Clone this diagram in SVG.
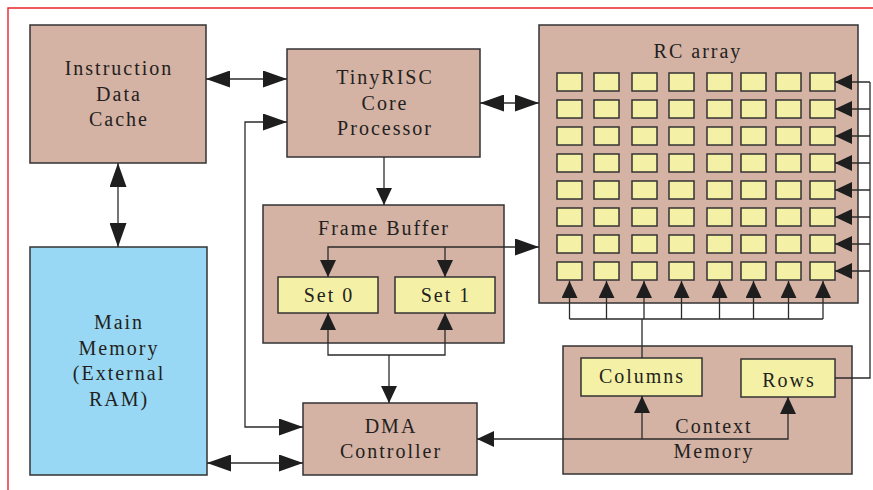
<svg xmlns="http://www.w3.org/2000/svg" width="873" height="490" viewBox="0 0 873 490">
<style>
.box{fill:#d4b2a4;stroke:#333;stroke-width:1.5}
.mem{fill:#98d8f4;stroke:#333;stroke-width:1.5}
.cell{fill:#f4f1a6;stroke:#333;stroke-width:1.5}
.ln{fill:none;stroke:#2b2b2b;stroke-width:1.3}
text{font-family:"Liberation Serif","DejaVu Serif",serif;font-size:20px;fill:#231f20;text-anchor:middle;letter-spacing:2px}
</style>
<defs>
<marker id="big" markerUnits="userSpaceOnUse" markerWidth="24" markerHeight="17" refX="24" refY="8.5" orient="auto-start-reverse"><path d="M0,0 L24,8.5 L0,17 z" fill="#1e1e1e"/></marker>
<marker id="sm" markerUnits="userSpaceOnUse" markerWidth="17" markerHeight="16" refX="17" refY="8" orient="auto-start-reverse"><path d="M0,0 L17,8 L0,16 z" fill="#1e1e1e"/></marker>
</defs>
<rect width="873" height="490" fill="#fff"/>
<path d="M8,490 V8 H873" fill="none" stroke="#e8262e" stroke-width="1.4"/>

<g id="idc">
<rect class="box" x="30" y="25" width="176" height="138"/>
<text x="119" y="75">Instruction</text>
<text x="119" y="101">Data</text>
<text x="119" y="126">Cache</text>
</g>

<g id="tinyrisc">
<rect class="box" x="287" y="49" width="193" height="108"/>
<text x="385" y="84">TinyRISC</text>
<text x="385" y="110">Core</text>
<text x="385" y="135">Processor</text>
</g>

<g id="mainmem">
<rect class="mem" x="30" y="247" width="177" height="228"/>
<text x="119" y="329">Main</text>
<text x="119" y="355">Memory</text>
<text x="119" y="380">(External</text>
<text x="119" y="406">RAM)</text>
</g>

<g id="framebuffer">
<rect class="box" x="263" y="205" width="241" height="138"/>
<text x="384" y="235">Frame Buffer</text>
<g id="set0"><rect class="cell" x="278" y="277" width="100" height="36"/><text x="329" y="302">Set 0</text></g>
<g id="set1"><rect class="cell" x="395" y="277" width="100" height="36"/><text x="446" y="302">Set 1</text></g>
</g>

<g id="dma">
<rect class="box" x="303" y="403" width="174" height="72"/>
<text x="391" y="433">DMA</text>
<text x="391" y="458">Controller</text>
</g>

<g id="rcarray">
<rect class="box" x="539" y="25" width="319" height="278"/>
<text x="698" y="58">RC array</text>
<g id="cells">
<rect class="cell" x="557" y="73" width="25" height="18"/><rect class="cell" x="594" y="73" width="25" height="18"/><rect class="cell" x="632" y="73" width="25" height="18"/><rect class="cell" x="669" y="73" width="25" height="18"/><rect class="cell" x="707" y="73" width="25" height="18"/><rect class="cell" x="741" y="73" width="25" height="18"/><rect class="cell" x="776" y="73" width="25" height="18"/><rect class="cell" x="810" y="73" width="25" height="18"/>
<rect class="cell" x="557" y="100" width="25" height="18"/><rect class="cell" x="594" y="100" width="25" height="18"/><rect class="cell" x="632" y="100" width="25" height="18"/><rect class="cell" x="669" y="100" width="25" height="18"/><rect class="cell" x="707" y="100" width="25" height="18"/><rect class="cell" x="741" y="100" width="25" height="18"/><rect class="cell" x="776" y="100" width="25" height="18"/><rect class="cell" x="810" y="100" width="25" height="18"/>
<rect class="cell" x="557" y="127" width="25" height="18"/><rect class="cell" x="594" y="127" width="25" height="18"/><rect class="cell" x="632" y="127" width="25" height="18"/><rect class="cell" x="669" y="127" width="25" height="18"/><rect class="cell" x="707" y="127" width="25" height="18"/><rect class="cell" x="741" y="127" width="25" height="18"/><rect class="cell" x="776" y="127" width="25" height="18"/><rect class="cell" x="810" y="127" width="25" height="18"/>
<rect class="cell" x="557" y="154" width="25" height="18"/><rect class="cell" x="594" y="154" width="25" height="18"/><rect class="cell" x="632" y="154" width="25" height="18"/><rect class="cell" x="669" y="154" width="25" height="18"/><rect class="cell" x="707" y="154" width="25" height="18"/><rect class="cell" x="741" y="154" width="25" height="18"/><rect class="cell" x="776" y="154" width="25" height="18"/><rect class="cell" x="810" y="154" width="25" height="18"/>
<rect class="cell" x="557" y="181" width="25" height="18"/><rect class="cell" x="594" y="181" width="25" height="18"/><rect class="cell" x="632" y="181" width="25" height="18"/><rect class="cell" x="669" y="181" width="25" height="18"/><rect class="cell" x="707" y="181" width="25" height="18"/><rect class="cell" x="741" y="181" width="25" height="18"/><rect class="cell" x="776" y="181" width="25" height="18"/><rect class="cell" x="810" y="181" width="25" height="18"/>
<rect class="cell" x="557" y="208" width="25" height="18"/><rect class="cell" x="594" y="208" width="25" height="18"/><rect class="cell" x="632" y="208" width="25" height="18"/><rect class="cell" x="669" y="208" width="25" height="18"/><rect class="cell" x="707" y="208" width="25" height="18"/><rect class="cell" x="741" y="208" width="25" height="18"/><rect class="cell" x="776" y="208" width="25" height="18"/><rect class="cell" x="810" y="208" width="25" height="18"/>
<rect class="cell" x="557" y="235" width="25" height="18"/><rect class="cell" x="594" y="235" width="25" height="18"/><rect class="cell" x="632" y="235" width="25" height="18"/><rect class="cell" x="669" y="235" width="25" height="18"/><rect class="cell" x="707" y="235" width="25" height="18"/><rect class="cell" x="741" y="235" width="25" height="18"/><rect class="cell" x="776" y="235" width="25" height="18"/><rect class="cell" x="810" y="235" width="25" height="18"/>
<rect class="cell" x="557" y="262" width="25" height="18"/><rect class="cell" x="594" y="262" width="25" height="18"/><rect class="cell" x="632" y="262" width="25" height="18"/><rect class="cell" x="669" y="262" width="25" height="18"/><rect class="cell" x="707" y="262" width="25" height="18"/><rect class="cell" x="741" y="262" width="25" height="18"/><rect class="cell" x="776" y="262" width="25" height="18"/><rect class="cell" x="810" y="262" width="25" height="18"/>
</g>
</g>

<g id="contextmem">
<rect class="box" x="563" y="346" width="289" height="128"/>
<text x="714" y="433">Context</text>
<text x="714" y="458">Memory</text>
<g id="columns"><rect class="cell" x="581" y="358" width="121" height="38"/><text x="642" y="383">Columns</text></g>
<g id="rows"><rect class="cell" x="741" y="359" width="94" height="38"/><text x="789" y="387">Rows</text></g>
</g>

<g id="connectors">
<path class="ln" d="M206,79 H287" marker-start="url(#big)" marker-end="url(#big)"/>
<path class="ln" d="M118,163 V247" marker-start="url(#big)" marker-end="url(#big)"/>
<path class="ln" d="M207,463 H303" marker-start="url(#big)" marker-end="url(#big)"/>
<path class="ln" d="M287,122 H245 V427 H303" marker-start="url(#big)" marker-end="url(#big)"/>
<path class="ln" d="M480,103 H539" marker-start="url(#big)" marker-end="url(#big)"/>
<path class="ln" d="M384,157 V205" marker-end="url(#sm)"/>
<path class="ln" d="M328,277 V247 H539" marker-start="url(#sm)" marker-end="url(#big)"/>
<path class="ln" d="M445,247 V277" marker-end="url(#sm)"/>
<path class="ln" d="M328,313 V355 H445 V313" marker-start="url(#sm)" marker-end="url(#sm)"/>
<path class="ln" d="M389,355 V403" marker-end="url(#sm)"/>
<path class="ln" d="M788,397 V439 H477" marker-start="url(#sm)" marker-end="url(#sm)"/>
<path class="ln" d="M642,439 V396" marker-end="url(#sm)"/>
<path class="ln" d="M835,378 H870 V82"/>
<path class="ln" d="M870,82 H835" marker-end="url(#sm)"/>
<path class="ln" d="M870,109 H835" marker-end="url(#sm)"/>
<path class="ln" d="M870,136 H835" marker-end="url(#sm)"/>
<path class="ln" d="M870,163 H835" marker-end="url(#sm)"/>
<path class="ln" d="M870,190 H835" marker-end="url(#sm)"/>
<path class="ln" d="M870,217 H835" marker-end="url(#sm)"/>
<path class="ln" d="M870,244 H835" marker-end="url(#sm)"/>
<path class="ln" d="M870,271 H835" marker-end="url(#sm)"/>
<path class="ln" d="M642,358 V319 M569.5,319 H823"/>
<path class="ln" d="M569.5,319 V281" marker-end="url(#sm)"/>
<path class="ln" d="M606.5,319 V281" marker-end="url(#sm)"/>
<path class="ln" d="M644,319 V281" marker-end="url(#sm)"/>
<path class="ln" d="M681.5,319 V281" marker-end="url(#sm)"/>
<path class="ln" d="M719.5,319 V281" marker-end="url(#sm)"/>
<path class="ln" d="M753.5,319 V281" marker-end="url(#sm)"/>
<path class="ln" d="M788.5,319 V281" marker-end="url(#sm)"/>
<path class="ln" d="M823,319 V281" marker-end="url(#sm)"/>
</g>
</svg>
